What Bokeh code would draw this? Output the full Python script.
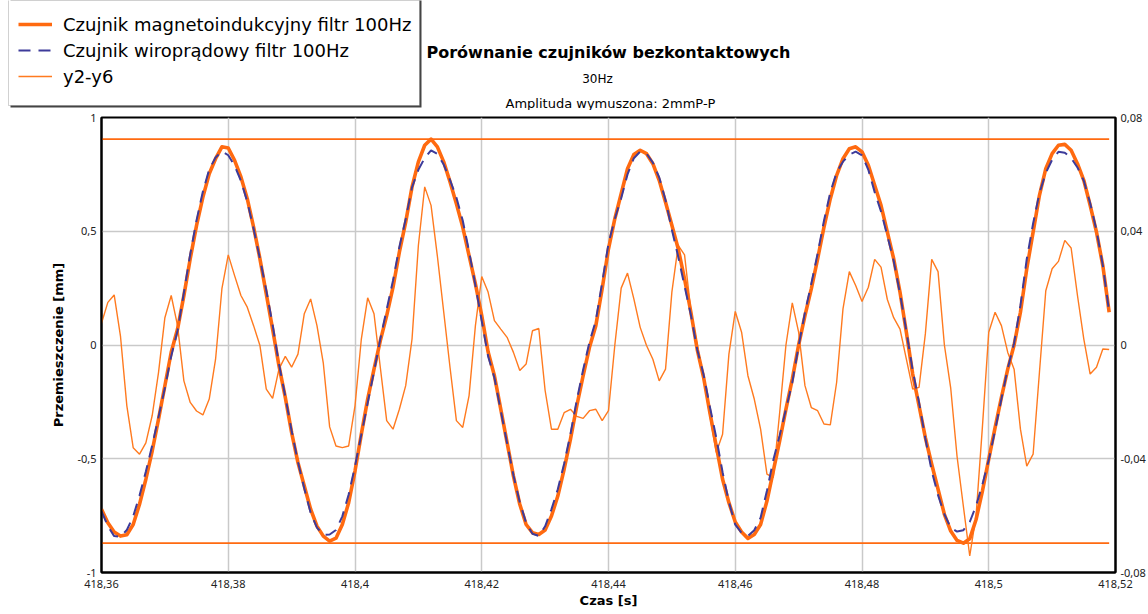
from bokeh.plotting import figure
from bokeh.layouts import column
from bokeh.models import (Range1d, LinearAxis, FixedTicker, CustomJSTickFormatter,
                          Legend, LegendItem, Label, BoxAnnotation)
from bokeh.embed import file_html
from bokeh.resources import INLINE

# sampling: 1 ms steps starting at 418.36 s
t0 = 418.36
dt = 0.001
n_samples = 160
czas = [round(t0 + i * dt, 3) for i in range(n_samples)]

# magneto-inductive sensor, 100 Hz filter [mm]
magneto = [
    -0.722, -0.781, -0.822, -0.840, -0.834, -0.789, -0.700, -0.590, -0.466, -0.326,
    -0.179, -0.032, 0.070, 0.217, 0.379, 0.526, 0.650, 0.753, 0.819, 0.871,
    0.866, 0.812, 0.739, 0.643, 0.518, 0.379, 0.225, 0.070, -0.091, -0.230,
    -0.385, -0.517, -0.620, -0.722, -0.796, -0.840, -0.862, -0.849, -0.789, -0.693,
    -0.554, -0.392, -0.238, -0.106, 0.019, 0.129, 0.254, 0.408, 0.540, 0.695,
    0.805, 0.878, 0.905, 0.871, 0.805, 0.717, 0.621, 0.518, 0.393, 0.269,
    0.129, -0.030, -0.135, -0.282, -0.429, -0.576, -0.700, -0.789, -0.825, -0.833,
    -0.813, -0.752, -0.664, -0.546, -0.414, -0.267, -0.135, -0.010, 0.085, 0.247,
    0.423, 0.555, 0.665, 0.775, 0.837, 0.856, 0.841, 0.797, 0.724, 0.628,
    0.526, 0.423, 0.291, 0.144, -0.020, -0.142, -0.297, -0.444, -0.590, -0.693,
    -0.778, -0.822, -0.850, -0.833, -0.789, -0.686, -0.554, -0.422, -0.282, -0.150,
    0.000, 0.129, 0.247, 0.379, 0.518, 0.643, 0.746, 0.819, 0.863, 0.871,
    0.849, 0.790, 0.702, 0.614, 0.496, 0.379, 0.232, 0.056, -0.128, -0.267,
    -0.407, -0.524, -0.634, -0.744, -0.818, -0.859, -0.871, -0.852, -0.767, -0.642,
    -0.502, -0.363, -0.230, -0.106, 0.000, 0.144, 0.335, 0.496, 0.658, 0.775,
    0.841, 0.878, 0.882, 0.856, 0.797, 0.724, 0.614, 0.496, 0.349, 0.144,
]

# eddy-current sensor, 100 Hz filter [mm]
wiroprad = [
    -0.730, -0.796, -0.840, -0.843, -0.813, -0.753, -0.662, -0.556, -0.441, -0.316,
    -0.189, -0.049, 0.063, 0.230, 0.399, 0.549, 0.675, 0.772, 0.824, 0.851,
    0.834, 0.788, 0.722, 0.630, 0.511, 0.379, 0.241, 0.089, -0.083, -0.226,
    -0.377, -0.514, -0.631, -0.738, -0.803, -0.834, -0.833, -0.813, -0.753, -0.657,
    -0.533, -0.394, -0.255, -0.117, 0.027, 0.156, 0.284, 0.431, 0.554, 0.693,
    0.770, 0.822, 0.856, 0.840, 0.793, 0.725, 0.648, 0.547, 0.411, 0.262,
    0.105, -0.049, -0.144, -0.288, -0.432, -0.573, -0.691, -0.782, -0.830, -0.839,
    -0.797, -0.722, -0.634, -0.522, -0.391, -0.242, -0.109, 0.013, 0.108, 0.274,
    0.446, 0.555, 0.645, 0.750, 0.821, 0.850, 0.841, 0.802, 0.737, 0.636,
    0.507, 0.388, 0.259, 0.132, -0.020, -0.130, -0.272, -0.406, -0.559, -0.690,
    -0.790, -0.826, -0.839, -0.814, -0.759, -0.641, -0.507, -0.398, -0.282, -0.165,
    -0.004, 0.143, 0.269, 0.402, 0.546, 0.671, 0.759, 0.806, 0.837, 0.850,
    0.834, 0.770, 0.672, 0.587, 0.480, 0.369, 0.226, 0.061, -0.112, -0.252,
    -0.411, -0.554, -0.660, -0.744, -0.803, -0.820, -0.814, -0.778, -0.707, -0.613,
    -0.506, -0.375, -0.237, -0.103, 0.008, 0.174, 0.378, 0.534, 0.668, 0.756,
    0.814, 0.849, 0.845, 0.822, 0.780, 0.722, 0.624, 0.504, 0.350, 0.146,
]

# difference y2-y6 [mm], plotted against the right-hand axis
y2_y6 = [
    0.0076, 0.0150, 0.0176, 0.0030, -0.0214, -0.0361, -0.0384, -0.0344, -0.0248, -0.0096,
    0.0096, 0.0174, 0.0068, -0.0126, -0.0202, -0.0232, -0.0246, -0.0190, -0.0050, 0.0198,
    0.0317, 0.0244, 0.0174, 0.0133, 0.0068, -0.0002, -0.0155, -0.0188, -0.0085, -0.0040,
    -0.0078, -0.0032, 0.0110, 0.0162, 0.0068, -0.0064, -0.0288, -0.0355, -0.0361, -0.0355,
    -0.0214, 0.0021, 0.0166, 0.0110, -0.0080, -0.0266, -0.0296, -0.0226, -0.0143, 0.0021,
    0.0350, 0.0556, 0.0491, 0.0312, 0.0116, -0.0080, -0.0266, -0.0290, -0.0178, 0.0068,
    0.0241, 0.0186, 0.0086, 0.0056, 0.0027, -0.0026, -0.0090, -0.0067, 0.0050, 0.0058,
    -0.0160, -0.0296, -0.0296, -0.0238, -0.0226, -0.0251, -0.0258, -0.0231, -0.0226, -0.0266,
    -0.0231, 0.0000, 0.0200, 0.0253, 0.0162, 0.0062, -0.0002, -0.0050, -0.0126, -0.0085,
    0.0186, 0.0350, 0.0317, 0.0120, 0.0000, -0.0120, -0.0248, -0.0378, -0.0314, -0.0032,
    0.0118, 0.0045, -0.0108, -0.0190, -0.0296, -0.0454, -0.0466, -0.0240, 0.0000, 0.0148,
    0.0045, -0.0143, -0.0220, -0.0231, -0.0278, -0.0281, -0.0131, 0.0127, 0.0258, 0.0209,
    0.0153, 0.0203, 0.0301, 0.0274, 0.0160, 0.0096, 0.0056, -0.0050, -0.0155, -0.0149,
    0.0040, 0.0301, 0.0258, 0.0000, -0.0152, -0.0392, -0.0568, -0.0742, -0.0600, -0.0288,
    0.0045, 0.0115, 0.0068, -0.0026, -0.0085, -0.0296, -0.0426, -0.0384, -0.0096, 0.0191,
    0.0268, 0.0294, 0.0368, 0.0341, 0.0174, 0.0021, -0.0102, -0.0078, -0.0014, -0.0016,
]

x_ticks = [418.36, 418.38, 418.40, 418.42, 418.44, 418.46, 418.48, 418.50, 418.52]
y_ticks = [-1.0, -0.5, 0.0, 0.5, 1.0]
y2_ticks = [-0.08, -0.04, 0.0, 0.04, 0.08]

series_names = ["Czujnik magnetoindukcyjny filtr 100Hz",
                "Czujnik wiroprądowy filtr 100Hz",
                "y2-y6"]
title_lines = ["Porównanie czujników bezkontaktowych", "30Hz",
               "Amplituda wymuszona: 2mmP-P"]

ORANGE = "#ff6a10"
ORANGE_THIN = "#ff7a1f"
BLUE = "#3d3b9a"
GRID = "#c9c9c9"
TICK_FONT = "Noto Sans"
DASH = "12 8"

W = 1148
HEAD_H = 110
MAIN_H = 614 - HEAD_H

# ---------------------------------------------------------------- header
# header strip with legend and chart titles; its ranges are in pixels
head = figure(width=W, height=HEAD_H, output_backend="svg", toolbar_location=None,
              title=None, x_range=Range1d(0, W), y_range=Range1d(HEAD_H, 0),
              x_axis_type=None, y_axis_type=None, min_border=0, frame_align=False)
head.outline_line_color = None
head.grid.visible = False
head.background_fill_color = "white"
head.border_fill_color = "white"

# legend frame with a slight drop shadow
head.add_layout(BoxAnnotation(left=10, right=421, top=-6, bottom=107,
                              fill_color="#444444", fill_alpha=1.0, line_alpha=0))
head.add_layout(BoxAnnotation(left=8, right=419, top=-6, bottom=105,
                              fill_color="white", fill_alpha=1.0,
                              line_color="#666666", line_width=1))

# legend keys: single-vertex lines carrying the style of each series
k_mag = head.line([35], [24], line_color=ORANGE, line_width=3.6)
k_wir = head.line([35], [50], line_color=BLUE, line_width=2, line_dash=DASH)
k_diff = head.line([35], [76], line_color=ORANGE_THIN, line_width=1.6)

legend = Legend(items=[
    LegendItem(label=series_names[0], renderers=[k_mag]),
    LegendItem(label=series_names[1], renderers=[k_wir]),
    LegendItem(label=series_names[2], renderers=[k_diff]),
], location=(18, HEAD_H - 89), orientation="vertical")
legend.padding = 0
legend.margin = 0
legend.spacing = 0
legend.glyph_height = 26
legend.label_height = 26
legend.glyph_width = 34
legend.label_standoff = 11
legend.label_text_font = "DejaVu Sans"
legend.label_text_font_size = "18px"
legend.label_text_color = "black"
legend.border_line_alpha = 0
legend.background_fill_alpha = 0
head.add_layout(legend, "center")


def head_text(text, x, y, size, style="normal"):
    head.add_layout(Label(x=x, y=y, text=text, text_font="DejaVu Sans",
                          text_font_size=size, text_font_style=style,
                          text_align="center", text_baseline="alphabetic",
                          text_color="black"))


head_text(title_lines[0], 608, 52, "16px", "bold")
head_text(title_lines[1], 597, 78, "12px")
head_text(title_lines[2], 610, 103, "13px")

# ---------------------------------------------------------------- main plot
p = figure(width=W, height=MAIN_H, output_backend="svg", toolbar_location=None,
           title=None, x_range=Range1d(418.36, 418.52), y_range=Range1d(-1, 1),
           min_border_left=101, min_border_right=31, min_border_top=117 - HEAD_H,
           min_border_bottom=42, frame_align=False)
p.extra_y_ranges = {"diff": Range1d(-0.08, 0.08)}

p.outline_line_color = "black"
p.outline_line_width = 2
p.background_fill_color = "white"
p.border_fill_color = "white"

comma_fmt = CustomJSTickFormatter(code="return (+tick.toFixed(4)).toString().replace('.', ',');")


def style_axis(ax):
    ax.formatter = comma_fmt
    ax.axis_line_color = "black"
    ax.axis_line_width = 2
    ax.major_tick_out = 0
    ax.major_tick_in = 0
    ax.minor_tick_out = 0
    ax.minor_tick_in = 0
    ax.major_label_text_font = TICK_FONT
    ax.major_label_text_font_size = "11px"
    ax.major_label_text_color = "#222222"
    ax.axis_label_text_font = "DejaVu Sans"
    ax.axis_label_text_font_style = "bold"
    ax.axis_label_text_font_size = "13px"
    ax.axis_label_text_color = "black"


p.xaxis.ticker = FixedTicker(ticks=x_ticks)
p.yaxis.ticker = FixedTicker(ticks=y_ticks)
style_axis(p.xaxis[0])
style_axis(p.yaxis[0])
p.xaxis.axis_label = "Czas [s]"
p.xaxis.major_label_standoff = 7
p.xaxis.axis_label_standoff = 2
p.yaxis.axis_label = "Przemieszczenie [mm]"
p.yaxis.major_label_standoff = 5
p.yaxis.axis_label_standoff = 8

right_axis = LinearAxis(y_range_name="diff", ticker=FixedTicker(ticks=y2_ticks))
style_axis(right_axis)
right_axis.major_label_standoff = 5
p.add_layout(right_axis, "right")

p.xgrid.ticker = FixedTicker(ticks=x_ticks)
p.ygrid.ticker = FixedTicker(ticks=y_ticks)
p.xgrid.grid_line_color = GRID
p.ygrid.grid_line_color = GRID
p.xgrid.grid_line_width = 1.5
p.ygrid.grid_line_width = 1.5

# max / min reference lines of the magneto-inductive signal
hi = max(magneto)
lo = min(magneto)
p.line([czas[0], czas[-1]], [hi, hi], line_color=ORANGE, line_width=1.8)
p.line([czas[0], czas[-1]], [lo, lo], line_color=ORANGE, line_width=1.8)

p.line(czas, y2_y6, y_range_name="diff", line_color=ORANGE_THIN, line_width=1.4)
p.line(czas, magneto, line_color=ORANGE, line_width=3.6, line_join="round")
p.line(czas, wiroprad, line_color=BLUE, line_width=2, line_dash=DASH)

page = column(head, p, spacing=0)
open("out.html", "w").write(file_html(page, INLINE))
